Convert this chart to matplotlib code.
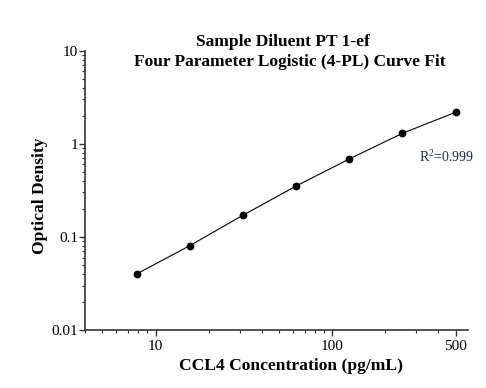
import matplotlib
matplotlib.use("Agg")
import matplotlib.pyplot as plt
from matplotlib.ticker import FixedLocator, FixedFormatter, LogLocator, NullFormatter

plt.rcParams['font.family'] = ['Liberation Serif', 'DejaVu Serif']
plt.rcParams['mathtext.fontset'] = 'custom'
plt.rcParams['mathtext.rm'] = 'Liberation Serif'

# standard curve
conc = [7.8125, 15.625, 31.25, 62.5, 125, 250, 500]
od = [0.040, 0.0805, 0.171, 0.352, 0.687, 1.297, 2.18]

x_ticks = [10, 100, 500]
x_labels = ['10', '100', '500']
y_ticks = [0.01, 0.1, 1, 10]
y_labels = ['0.01', '0.1', '1', '10']

fig = plt.figure(figsize=(4.86, 3.88), dpi=100)
ax = fig.add_axes([0.1755, 0.1495, 0.7875, 0.7198])

ax.plot(conc, od, '-', color='black', lw=0.8)
ax.plot(conc, od, 'o', color='black', ms=4.6)

ax.set_xscale('log')
ax.set_yscale('log')
ax.set_xlim(4, 588)
ax.set_ylim(0.01, 10)

ax.xaxis.set_major_locator(FixedLocator(x_ticks))
ax.xaxis.set_major_formatter(FixedFormatter(x_labels))
ax.xaxis.set_minor_locator(LogLocator(base=10, subs=range(2, 10)))
ax.xaxis.set_minor_formatter(NullFormatter())
ax.yaxis.set_major_locator(FixedLocator(y_ticks))
ax.yaxis.set_major_formatter(FixedFormatter(y_labels))
ax.yaxis.set_minor_locator(LogLocator(base=10, subs=range(2, 10)))
ax.yaxis.set_minor_formatter(NullFormatter())

for s in ['top', 'right']:
    ax.spines[s].set_visible(False)
for s in ['left', 'bottom']:
    ax.spines[s].set_color('#333333')
    ax.spines[s].set_linewidth(1.2)

ax.tick_params(which='major', length=4, width=1.0, color='#333333', labelsize=11)
ax.tick_params(which='minor', length=2.3, width=0.8, color='#333333')
ax.tick_params(axis='y', which='major', pad=1)
ax.tick_params(axis='x', which='major', pad=3)

ax.set_xlabel('CCL4 Concentration (pg/mL)', fontsize=12.6, fontweight='bold')
ax.xaxis.set_label_coords(0.5375, -0.129)
ax.xaxis.label.set_va('center')
ax.set_ylabel('Optical Density', fontsize=12.6, fontweight='bold')
ax.yaxis.set_label_coords(-0.118, 0.48)
ax.yaxis.label.set_va('center')

fig.text(283 / 486, 1 - 41.7 / 388, 'Sample Diluent PT 1-ef', ha='center', va='center',
         fontsize=12.5, fontweight='bold')
fig.text(289.5 / 486, 1 - 61.7 / 388, 'Four Parameter Logistic (4-PL) Curve Fit',
         ha='center', va='center', fontsize=12.5, fontweight='bold')

ax.text(0.872, 0.6205, 'R$^2$=0.999', transform=ax.transAxes, ha='left', va='center',
        fontsize=10, color='#1c2848')

fig.savefig('out.png', dpi=100)
